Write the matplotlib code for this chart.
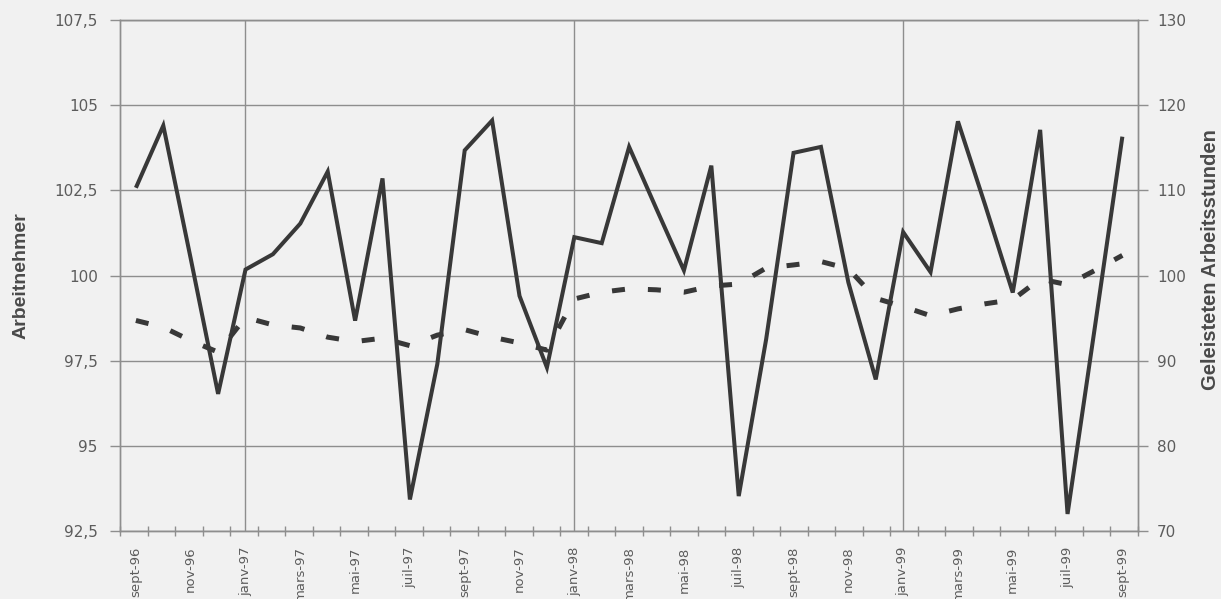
#!/usr/bin/env python3

import matplotlib
matplotlib.use('Agg')
from matplotlib import pyplot as plt
import numpy as np

# monthly index values, sept-96 .. sept-99
months = ['sept-96', 'oct-96', 'nov-96', 'déc-96',
          'janv-97', 'févr-97', 'mars-97', 'avr-97', 'mai-97', 'juin-97',
          'juil-97', 'août-97', 'sept-97', 'oct-97', 'nov-97', 'déc-97',
          'janv-98', 'févr-98', 'mars-98', 'avr-98', 'mai-98', 'juin-98',
          'juil-98', 'août-98', 'sept-98', 'oct-98', 'nov-98', 'déc-98',
          'janv-99', 'févr-99', 'mars-99', 'avr-99', 'mai-99', 'juin-99',
          'juil-99', 'août-99', 'sept-99']

# Arbeitnehmer (left axis, dashed)
arbeitnehmer = [98.68, 98.48, 98.09, 97.75,
                98.77, 98.55, 98.46, 98.19, 98.06, 98.16,
                97.94, 98.25, 98.41, 98.19, 98.02, 97.81,
                99.31, 99.51, 99.61, 99.58, 99.51, 99.69,
                99.75, 100.22, 100.31, 100.41, 100.20, 99.33,
                99.09, 98.82, 99.02, 99.17, 99.29, 99.90,
                99.73, 100.15, 100.59]

# Geleistete Arbeitsstunden (right axis, solid)
arbeitsstunden = [110.3, 117.6, 102.0, 86.1,
                  100.7, 102.5, 106.1, 112.2, 94.7, 111.4,
                  73.7, 89.6, 114.7, 118.2, 97.6, 89.2,
                  104.5, 103.8, 115.1, 107.8, 100.6, 112.9,
                  74.1, 92.5, 114.4, 115.1, 99.2, 87.8,
                  105.1, 100.4, 118.1, 108.2, 98.0, 117.1,
                  72.0, 94.0, 116.3]

left_ticks = [92.5, 95, 97.5, 100, 102.5, 105, 107.5]
right_ticks = [70, 80, 90, 100, 110, 120, 130]
year_starts = ['janv-97', 'janv-98', 'janv-99']

BG = '#f1f1f1'
LINE = '#383838'
GRID = '#8e8e8e'
TXT = '#5c5c5c'


def comma(v):
    return ('%g' % v).replace('.', ',')


def plot_chart(filename='out.png'):
    fig = plt.figure(figsize=(12.21, 5.99), dpi=100, facecolor=BG)
    ax = fig.add_axes([120 / 1221, 68 / 599, 1017.7 / 1221, 511 / 599])
    ax.set_facecolor(BG)
    ax2 = ax.twinx()

    x = np.arange(len(months))
    xmin, xmax = -0.58, 36.56

    # grid
    for v in left_ticks:
        ax.axhline(v, color=GRID, lw=1.0, zorder=1)
    for m in year_starts:
        ax.axvline(months.index(m), color=GRID, lw=1.0, zorder=1)

    line, = ax.plot(x, arbeitnehmer, color=LINE, lw=3.6, zorder=3,
                    dash_capstyle='butt', solid_joinstyle='miter')
    line.set_dashes((2.6, 4.6))
    ax2.plot(x, arbeitsstunden, color=LINE, lw=2.9, zorder=3,
             solid_joinstyle='miter', solid_capstyle='butt')

    ax.set_xlim(xmin, xmax)
    ax.set_ylim(92.5, 107.5)
    ax2.set_ylim(70, 130)

    ax.set_yticks(left_ticks)
    ax.set_yticklabels([comma(v) for v in left_ticks])
    ax2.set_yticks(right_ticks)
    ax2.set_yticklabels([comma(v) for v in right_ticks])
    ax.tick_params(axis='y', length=7, width=1, color=GRID, pad=9,
                   labelsize=11, labelcolor=TXT)
    ax2.tick_params(axis='y', length=7, width=1, color=GRID, pad=7,
                    labelsize=11, labelcolor=TXT)

    shown = x[::2]
    ax.set_xticks(shown)
    ax.set_xticklabels([months[i] for i in shown], rotation=90,
                       fontsize=9.5, color=TXT, va='top', ha='center')
    ax.tick_params(axis='x', which='major', length=0, pad=11)
    ax.set_xticks(np.linspace(xmin, xmax, 38), minor=True)
    ax.tick_params(axis='x', which='minor', length=7, width=1,
                   color=GRID, direction='inout')

    for a in (ax, ax2):
        for s in a.spines.values():
            s.set_color(GRID)
            s.set_linewidth(1.0)

    fig.text(21 / 1221, 1 - 276 / 599, 'Arbeitnehmer', rotation=90,
             ha='center', va='center', fontsize=14, fontweight='bold',
             color='#4a4a4a', family='Liberation Sans')
    fig.text(1211 / 1221, 1 - 260 / 599, 'Geleisteten Arbeitsstunden',
             rotation=90, ha='center', va='center', fontsize=14.5,
             fontweight='bold', color='#4a4a4a', family='Liberation Sans')

    plt.savefig(filename, dpi=100, facecolor=BG)


def main():
    plot_chart('out.png')


if __name__ == "__main__":
    main()
